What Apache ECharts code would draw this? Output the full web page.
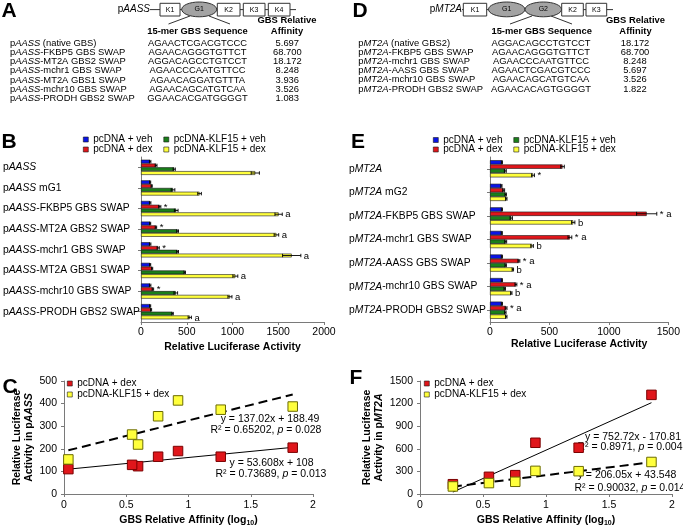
<!DOCTYPE html>
<html><head><meta charset="utf-8">
<script src="https://cdn.jsdelivr.net/npm/echarts@6/dist/echarts.min.js"></script>
<style>html,body{margin:0;padding:0;background:#fff}#c{width:683px;height:528px}</style>
</head><body><div id="c"></div>
<script>
const FONT = '"Liberation Sans", Arial, Helvetica, sans-serif';

// ---------- Panel A table ----------
const tableANames = ['pAASS (native GBS)', 'pAASS-FKBP5 GBS SWAP', 'pAASS-MT2A GBS2 SWAP', 'pAASS-mchr1 GBS SWAP', 'pAASS-MT2A GBS1 SWAP', 'pAASS-mchr10 GBS SWAP', 'pAASS-PRODH GBS2 SWAP'];
const tableASeqs = ['AGAACTCGACGTCCC', 'AGAACAGGGTGTTCT', 'AGGACAGCCTGTCCT', 'AGAACCCAATGTTCC', 'AGAACAGGATGTTTA', 'AGAACAGCATGTCAA', 'GGAACACGATGGGGT'];
const tableAAff = ['5.697', '68.700', '18.172', '8.248', '3.936', '3.526', '1.083'];
const promoterA = ['K1', 'G1', 'K2', 'K3', 'K4'];

// ---------- Panel D table ----------
const tableDNames = ['pMT2A (native GBS2)', 'pMT2A-FKBP5 GBS SWAP', 'pMT2A-mchr1 GBS SWAP', 'pMT2A-AASS GBS SWAP', 'pMT2A-mchr10 GBS SWAP', 'pMT2A-PRODH GBS2 SWAP'];
const tableDSeqs = ['AGGACAGCCTGTCCT', 'AGAACAGGGTGTTCT', 'AGAACCCAATGTTCC', 'AGAACTCGACGTCCC', 'AGAACAGCATGTCAA', 'AGAACACAGTGGGGT'];
const tableDAff = ['18.172', '68.700', '8.248', '5.697', '3.526', '1.822'];
const promoterD = ['K1', 'G1', 'G2', 'K2', 'K3'];

// ---------- Panel B ----------
const seriesNames = ['pcDNA + veh', 'pcDNA + dex', 'pcDNA-KLF15 + veh', 'pcDNA-KLF15 + dex'];
const catB = ['pAASS', 'pAASS mG1', 'pAASS-FKBP5 GBS SWAP', 'pAASS-MT2A GBS2 SWAP', 'pAASS-mchr1 GBS SWAP', 'pAASS-MT2A GBS1 SWAP', 'pAASS-mchr10 GBS SWAP', 'pAASS-PRODH GBS2 SWAP'];
const bVeh = [100, 100, 100, 100, 100, 100, 100, 100];
const bDex = [165, 117, 205, 163, 188, 122, 130, 110];
const bKVeh = [363, 350, 385, 400, 400, 478, 380, 345];
const bKDex = [1249, 640, 1504, 1480, 1647, 1031, 972, 533];
const bVehErr = [8, 6, 8, 6, 8, 6, 8, 6];
const bDexErr = [10, 6, 12, 8, 12, 6, 8, 6];
const bKVehErr = [12, 20, 20, 10, 10, 8, 20, 8];
const bKDexErr = [45, 20, 40, 25, 100, 27, 22, 18];
const bDexMark = ['', '', '*', '*', '*', '', '*', ''];
const bKDexMark = ['', '', 'a', 'a', 'a', 'a', 'a', 'a'];

// ---------- Panel E ----------
const catE = ['pMT2A', 'pMT2A mG2', 'pMT2A-FKBP5 GBS SWAP', 'pMT2A-mchr1 GBS SWAP', 'pMT2A-AASS GBS SWAP', 'pMT2A-mchr10 GBS SWAP', 'pMT2A-PRODH GBS2 SWAP'];
const eVeh = [100, 96, 100, 99, 100, 100, 100];
const eDex = [610, 115, 1318, 672, 243, 218, 135];
const eKVeh = [129, 132, 179, 132, 132, 124, 129];
const eKDex = [362, 137, 700, 354, 192, 179, 137];
const eVehErr = [5, 5, 5, 5, 5, 5, 5];
const eDexErr = [15, 8, 85, 16, 8, 8, 8];
const eKVehErr = [8, 6, 10, 8, 6, 6, 6];
const eKDexErr = [12, 6, 14, 11, 6, 6, 6];
const eVehMark = ['', '', '', '', '', '', ''];
const eDexMark = ['', '', '* a', '* a', '* a', '* a', '* a'];
const eKVehMark = ['', '', '', '', '', '', ''];
const eKDexMark = ['*', '', 'b', 'b', 'b', 'b', ''];

// ---------- Panel C ----------
const cX = [0.756, 1.837, 1.259, 0.916, 0.595, 0.547, 0.035];
const cDex = [165, 205, 165, 190, 123, 129, 110];
const cKDex = [344, 387, 373, 414, 219, 263, 153];
const cFitDex = [53.608, 108];
const cFitKDex = [137.02, 188.49];
const cEq = ['y = 137.02x + 188.49', 'R\u00b2 = 0.65202, {i|p} = 0.028', 'y = 53.608x + 108', 'R\u00b2 = 0.73689, {i|p} = 0.013'];

// ---------- Panel F ----------
const fX = [1.259, 1.837, 0.916, 0.756, 0.547, 0.261];
const fDex = [614, 1316, 680, 250, 228, 130];
const fKDex = [303, 425, 307, 162, 145, 100];
const fFitDex = [752.72, -170.81];
const fFitKDex = [206.05, 43.548];
const fEq = ['y = 752.72x - 170.81', 'R\u00b2 = 0.8971, {i|p} = 0.004', 'y = 206.05x + 43.548', 'R\u00b2 = 0.90032, {i|p} = 0.014'];

const COLORS = ['#0a14e6', '#e0161b', '#1a7f1a', '#ffff3c'];

function ital(s, gene) { return s.replace('p' + gene, 'p{i|' + gene + '}'); }

function T(x, y, text, o) {
  o = o || {};
  return {
    type: 'text', x: x, y: y, silent: true,
    style: {
      text: text, fill: '#000', fontFamily: FONT,
      fontSize: o.size || 9.4, fontWeight: o.bold ? 'bold' : 'normal',
      align: o.align || 'left', verticalAlign: 'middle',
      rich: {
        i: { fontStyle: 'italic', fontSize: o.size || 9.4, fontFamily: FONT, fontWeight: o.bold ? 'bold' : 'normal' }
      }
    }
  };
}
function L(x1, y1, x2, y2, w) {
  return { type: 'line', silent: true, shape: { x1, y1, x2, y2 }, style: { stroke: '#333', lineWidth: w || 1 } };
}
function R(x, y, w, h, label) {
  return [
    { type: 'rect', silent: true, shape: { x, y, width: w, height: h }, style: { fill: '#fff', stroke: '#333', lineWidth: 1 } },
    T(x + w / 2, y + h / 2, label, { size: 7, align: 'center' })
  ];
}
function E(cx, cy, rx, ry, label) {
  return [
    { type: 'ellipse', silent: true, shape: { cx, cy, rx, ry }, style: { fill: '#a3a3a3', stroke: '#333', lineWidth: 1 } },
    T(cx, cy, label, { size: 7, align: 'center' })
  ];
}

const graphics = [];
// Panel letters
[['A', 1.5, 11.5], ['D', 352.5, 11.5], ['B', 1.5, 142], ['E', 351, 142], ['C', 2.5, 387], ['F', 349.5, 378]].forEach(function (l) {
  graphics.push(T(l[1], l[2], l[0], { size: 21, bold: true }));
});

// Promoter A
graphics.push(T(150, 9.6, 'p{i|AASS}', { size: 10, align: 'right' }));
graphics.push(L(150, 9.6, 296, 9.6));
graphics.push(L(190, 16, 168.5, 24));
graphics.push(L(209, 16, 230, 24));
graphics.push.apply(graphics, R(160, 3.3, 20, 12.7, promoterA[0]));
graphics.push.apply(graphics, E(199.2, 9.4, 17.5, 7.4, promoterA[1]));
graphics.push.apply(graphics, R(217.3, 3.3, 22.7, 12.7, promoterA[2]));
graphics.push.apply(graphics, R(243.3, 3.3, 21.7, 12.7, promoterA[3]));
graphics.push.apply(graphics, R(268.3, 3.3, 21.7, 12.7, promoterA[4]));
graphics.push(T(197.5, 31.7, '15-mer GBS Sequence', { bold: true, align: 'center' }));
graphics.push(T(287, 20.7, 'GBS Relative', { bold: true, align: 'center' }));
graphics.push(T(287, 31.7, 'Affinity', { bold: true, align: 'center' }));
tableANames.forEach(function (n, i) {
  const y = 43.3 + i * 9.17;
  graphics.push(T(10, y, ital(n, 'AASS')));
  graphics.push(T(197.5, y, tableASeqs[i], { align: 'center' }));
  graphics.push(T(287.3, y, tableAAff[i], { align: 'center' }));
});

// Promoter D
graphics.push(T(462, 9.6, 'p{i|MT2A}', { size: 10, align: 'right' }));
graphics.push(L(462, 9.6, 613, 9.6));
graphics.push(L(532, 16, 510, 24));
graphics.push(L(551, 16, 572, 24));
graphics.push.apply(graphics, R(463.3, 3.3, 23.4, 12.7, promoterD[0]));
graphics.push.apply(graphics, E(506.7, 9.4, 18.2, 7.4, promoterD[1]));
graphics.push.apply(graphics, E(543.3, 9.4, 18.2, 7.4, promoterD[2]));
graphics.push.apply(graphics, R(561.7, 3.3, 21.6, 12.7, promoterD[3]));
graphics.push.apply(graphics, R(586, 3.3, 20.7, 12.7, promoterD[4]));
graphics.push(T(541.7, 31.7, '15-mer GBS Sequence', { bold: true, align: 'center' }));
graphics.push(T(635.5, 20.7, 'GBS Relative', { bold: true, align: 'center' }));
graphics.push(T(635.5, 31.7, 'Affinity', { bold: true, align: 'center' }));
tableDNames.forEach(function (n, i) {
  const y = 43.3 + i * 9.13;
  graphics.push(T(358.3, y, ital(n, 'MT2A')));
  graphics.push(T(541, y, tableDSeqs[i], { align: 'center' }));
  graphics.push(T(635, y, tableDAff[i], { align: 'center' }));
});

// Equations
[[270, 419.3], [266, 430.3], [271.5, 463.3], [271, 474.3]].forEach(function (p, i) {
  graphics.push(T(p[0], p[1], cEq[i], { size: 10.5, align: 'center' }));
});
[[633, 437.3], [630, 446.7], [627, 475], [630, 487.7]].forEach(function (p, i) {
  graphics.push(T(p[0], p[1], fEq[i], { size: 10.5, align: 'center' }));
});

// ---------- series helpers ----------
function barSeries(idx, k, vals, bw) {
  return {
    type: 'bar', name: seriesNames[k], xAxisIndex: idx, yAxisIndex: idx,
    data: vals, barWidth: bw, barGap: '0%',
    itemStyle: { color: COLORS[k], borderColor: '#1a1a1a', borderWidth: 0.6 },
    emphasis: { disabled: true }, animation: false
  };
}
function errSeries(idx, k, vals, errs, marks, bw) {
  return {
    type: 'custom', xAxisIndex: idx, yAxisIndex: idx, silent: true, z: 5, animation: false,
    encode: { x: 0, y: 1 },
    data: vals.map(function (v, i) { return [v, i, errs[i]]; }),
    renderItem: function (params, api) {
      const v = api.value(0), ci = api.value(1), e = api.value(2);
      const c0 = api.coord([v - e, ci]), c1 = api.coord([v + e, ci]);
      const y = c0[1] + (k - 1.5) * bw;
      const h = bw * 0.45;
      const st = { stroke: '#000', lineWidth: 0.9 };
      const ch = [
        { type: 'line', shape: { x1: c0[0], y1: y, x2: c1[0], y2: y }, style: st },
        { type: 'line', shape: { x1: c0[0], y1: y - h, x2: c0[0], y2: y + h }, style: st },
        { type: 'line', shape: { x1: c1[0], y1: y - h, x2: c1[0], y2: y + h }, style: st }
      ];
      const m = marks[params.dataIndex];
      if (m) ch.push({ type: 'text', x: c1[0] + 3, y: y + 0.5, style: { text: m, fontSize: 9.5, fontFamily: FONT, fill: '#000', verticalAlign: 'middle' } });
      return { type: 'group', children: ch };
    }
  };
}
function fitLine(idx, xs, coef, dashed) {
  const x0 = Math.min.apply(null, xs), x1 = Math.max.apply(null, xs);
  return {
    type: 'line', name: 'fit', xAxisIndex: idx, yAxisIndex: idx, silent: true, animation: false,
    showSymbol: false, symbol: 'none', z: 1,
    data: [[x0, coef[0] * x0 + coef[1]], [x1, coef[0] * x1 + coef[1]]],
    lineStyle: dashed ? { color: '#000', width: 2, type: [9, 5] } : { color: '#000', width: 1 }
  };
}
function scatter(idx, k, xs, ys, border) {
  return {
    type: 'scatter', name: seriesNames[k], xAxisIndex: idx, yAxisIndex: idx, animation: false,
    symbol: 'rect', symbolSize: 9.5, z: 3,
    data: xs.map(function (x, i) { return [x, ys[i]]; }),
    itemStyle: { color: COLORS[k], borderColor: border, borderWidth: 1, opacity: 1 }
  };
}

const axisLineStyle = { show: true, lineStyle: { color: '#7a7a7a', width: 1 } };
const tickStyle = { show: true, length: 3, lineStyle: { color: '#7a7a7a' } };
const plain = function (v) { return String(v); };
const lblStyle = { fontSize: 10.5, fontFamily: FONT, color: '#000', formatter: plain };
const nameStyle = { fontSize: 10.5, fontFamily: FONT, fontWeight: 'bold', color: '#000' };

function catAxis(idx, cats, gene, margin) {
  return {
    type: 'category', gridIndex: idx, data: cats, inverse: true,
    axisLine: axisLineStyle, axisTick: Object.assign({ alignWithLabel: true }, tickStyle),
    splitLine: { show: false },
    axisLabel: {
      align: 'left', margin: margin, fontSize: 10.3, fontFamily: FONT, color: '#000',
      formatter: function (v) { return ital(v, gene); },
      rich: { i: { fontStyle: 'italic', fontSize: 10.3, fontFamily: FONT, color: '#000' } }
    }
  };
}
function valAxis(idx, max, interval, name, gap, extra) {
  return Object.assign({
    type: 'value', gridIndex: idx, min: 0, max: max, interval: interval,
    axisLine: axisLineStyle, axisTick: tickStyle, splitLine: { show: false },
    axisLabel: Object.assign({ margin: 5 }, lblStyle),
    name: name, nameLocation: 'middle', nameGap: gap, nameTextStyle: nameStyle
  }, extra || {});
}

const legendBase = {
  icon: 'rect', itemWidth: 5, itemHeight: 5, selectedMode: false, padding: 0,
  textStyle: { fontSize: 10, fontFamily: FONT, color: '#000', lineHeight: 11 },
  itemStyle: { borderColor: '#1a1a1a', borderWidth: 0.6 }
};
function lg(o) { return Object.assign({}, legendBase, o); }

const subRich = { sub: { fontSize: 7, fontWeight: 'bold', fontFamily: FONT, verticalAlign: 'bottom', padding: [6, 0, 0, 0] } };
const italRich = { i: { fontStyle: 'italic', fontWeight: 'bold', fontSize: 10.5, fontFamily: FONT, lineHeight: 12.5 } };

const option = {
  animation: false,
  backgroundColor: '#fff',
  grid: [
    { left: 139, right: 359, top: 157, bottom: 206 },
    { left: 490, right: 11, top: 157, bottom: 206 },
    { left: 64, right: 370, top: 381, bottom: 33 },
    { left: 420, right: 11, top: 381, bottom: 33 }
  ],
  legend: [
    lg({ data: [seriesNames[0], seriesNames[2]], left: 83, top: 134, itemGap: 11 }),
    lg({ data: [seriesNames[1], seriesNames[3]], left: 83, top: 144, itemGap: 11 }),
    lg({ data: [seriesNames[0], seriesNames[2]], left: 433, top: 134.5, itemGap: 11 }),
    lg({ data: [seriesNames[1], seriesNames[3]], left: 433, top: 144, itemGap: 11 }),
    lg({ data: [seriesNames[1], seriesNames[3]], left: 67, top: 378, orient: 'vertical', itemGap: 0 }),
    lg({ data: [seriesNames[1], seriesNames[3]], left: 424, top: 378, orient: 'vertical', itemGap: 0 })
  ],
  xAxis: [
    valAxis(0, 2000, 500, 'Relative Luciferase Activity', 20),
    valAxis(1, 1500, 500, 'Relative Luciferase Activity', 13),
    valAxis(2, 2, 0.5, 'GBS Relative Affinity (log{sub|10})', 20, {
      axisLabel: Object.assign({}, lblStyle, { margin: 6 }),
      nameTextStyle: Object.assign({ rich: subRich }, nameStyle)
    }),
    valAxis(3, 2, 0.5, 'GBS Relative Affinity (log{sub|10})', 20, {
      axisLabel: Object.assign({}, lblStyle, { margin: 6 }),
      nameTextStyle: Object.assign({ rich: subRich }, nameStyle)
    })
  ],
  yAxis: [
    catAxis(0, catB, 'AASS', 138),
    catAxis(1, catE, 'MT2A', 141),
    valAxis(2, 500, 100, 'Relative Luciferase\nActivity in p{i|AASS}', 22, {
      axisLabel: Object.assign({}, lblStyle, { margin: 7 }),
      nameTextStyle: Object.assign({ lineHeight: 12.5, rich: italRich }, nameStyle)
    }),
    valAxis(3, 1500, 300, 'Relative Luciferase\nActivity in p{i|MT2A}', 29, {
      axisLabel: Object.assign({}, lblStyle, { margin: 7 }),
      nameTextStyle: Object.assign({ lineHeight: 12.5, rich: italRich }, nameStyle)
    })
  ],
  series: [
    barSeries(0, 0, bVeh, 3.8), barSeries(0, 1, bDex, 3.8), barSeries(0, 2, bKVeh, 3.8), barSeries(0, 3, bKDex, 3.8),
    errSeries(0, 0, bVeh, bVehErr, ['', '', '', '', '', '', '', ''], 3.8),
    errSeries(0, 1, bDex, bDexErr, bDexMark, 3.8),
    errSeries(0, 2, bKVeh, bKVehErr, ['', '', '', '', '', '', '', ''], 3.8),
    errSeries(0, 3, bKDex, bKDexErr, bKDexMark, 3.8),
    barSeries(1, 0, eVeh, 4.3), barSeries(1, 1, eDex, 4.3), barSeries(1, 2, eKVeh, 4.3), barSeries(1, 3, eKDex, 4.3),
    errSeries(1, 0, eVeh, eVehErr, eVehMark, 4.3),
    errSeries(1, 1, eDex, eDexErr, eDexMark, 4.3),
    errSeries(1, 2, eKVeh, eKVehErr, eKVehMark, 4.3),
    errSeries(1, 3, eKDex, eKDexErr, eKDexMark, 4.3),
    fitLine(2, cX, cFitDex, false), fitLine(2, cX, cFitKDex, true),
    scatter(2, 1, cX, cDex, '#7a0000'), scatter(2, 3, cX, cKDex, '#6b6b00'),
    fitLine(3, fX, fFitDex, false), fitLine(3, fX, fFitKDex, true),
    scatter(3, 1, fX, fDex, '#7a0000'), scatter(3, 3, fX, fKDex, '#6b6b00')
  ],
  graphic: graphics
};

const chart = echarts.init(document.getElementById('c'), null, { renderer: 'canvas', width: 683, height: 528 });
chart.setOption(option);
</script>
</body></html>
